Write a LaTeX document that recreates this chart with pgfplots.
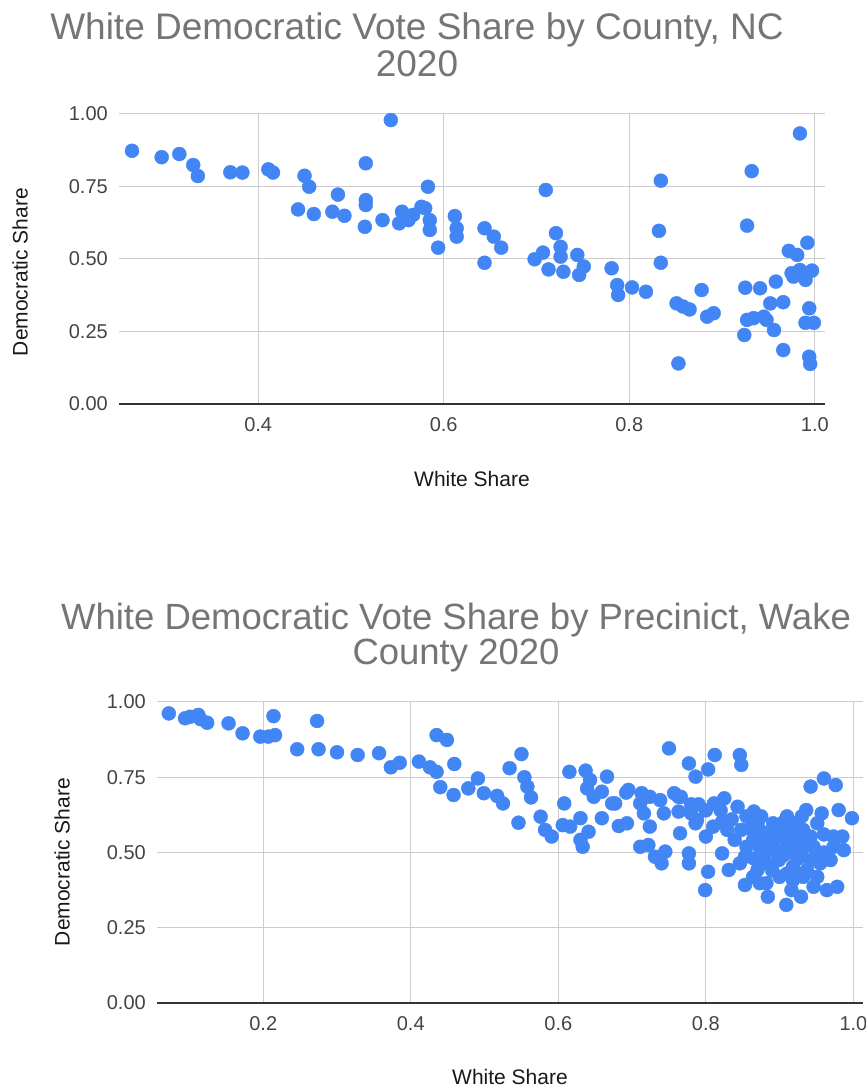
\documentclass[border=0pt]{standalone}
\usepackage{pgfplots}
\pgfplotsset{compat=1.18}
\usepackage{fontspec}
\setmainfont{Liberation Sans}
\definecolor{ptblue}{HTML}{4285F4}
\definecolor{titlegray}{HTML}{757575}
\definecolor{tickgray}{HTML}{444444}
\definecolor{gridgray}{HTML}{CCCCCC}
\definecolor{axisdark}{HTML}{333333}

\pgfplotstableread{
x y
0.264 0.873
0.296 0.851
0.315 0.862
0.330 0.824
0.335 0.786
0.370 0.799
0.383 0.798
0.411 0.809
0.416 0.798
0.450 0.787
0.455 0.749
0.443 0.671
0.460 0.655
0.486 0.722
0.480 0.663
0.493 0.649
0.516 0.830
0.516 0.703
0.516 0.686
0.515 0.611
0.543 0.979
0.534 0.634
0.552 0.623
0.555 0.663
0.562 0.634
0.567 0.652
0.576 0.680
0.580 0.675
0.583 0.749
0.585 0.634
0.585 0.600
0.594 0.539
0.612 0.648
0.614 0.606
0.614 0.577
0.644 0.606
0.654 0.577
0.662 0.539
0.644 0.487
0.710 0.738
0.721 0.589
0.698 0.499
0.707 0.522
0.713 0.464
0.726 0.542
0.726 0.508
0.729 0.456
0.744 0.514
0.751 0.474
0.746 0.445
0.781 0.468
0.787 0.410
0.788 0.376
0.803 0.402
0.818 0.387
0.834 0.770
0.832 0.597
0.834 0.487
0.853 0.140
0.851 0.347
0.858 0.336
0.865 0.326
0.878 0.393
0.884 0.301
0.891 0.313
0.932 0.803
0.927 0.615
0.925 0.401
0.941 0.399
0.958 0.422
0.924 0.238
0.927 0.290
0.934 0.296
0.945 0.301
0.952 0.347
0.966 0.351
0.956 0.255
0.948 0.290
0.966 0.186
0.984 0.933
0.972 0.528
0.992 0.556
0.981 0.514
0.975 0.451
0.984 0.462
0.990 0.428
0.997 0.460
0.977 0.439
0.994 0.330
0.990 0.280
0.999 0.280
0.994 0.163
0.995 0.138
}\countytable

\pgfplotstableread{
x y
0.072 0.962
0.094 0.946
0.101 0.951
0.112 0.957
0.115 0.943
0.124 0.931
0.153 0.929
0.172 0.896
0.196 0.885
0.207 0.885
0.216 0.890
0.214 0.953
0.246 0.843
0.273 0.937
0.275 0.843
0.300 0.833
0.328 0.824
0.357 0.830
0.373 0.783
0.385 0.798
0.411 0.802
0.426 0.783
0.435 0.768
0.435 0.890
0.449 0.874
0.459 0.794
0.440 0.717
0.458 0.691
0.478 0.713
0.491 0.746
0.499 0.697
0.517 0.688
0.525 0.663
0.534 0.780
0.550 0.827
0.554 0.750
0.558 0.719
0.563 0.683
0.546 0.599
0.576 0.619
0.582 0.575
0.591 0.553
0.606 0.591
0.608 0.663
0.615 0.768
0.616 0.586
0.630 0.614
0.637 0.772
0.643 0.741
0.639 0.713
0.648 0.685
0.659 0.702
0.641 0.569
0.630 0.542
0.633 0.519
0.666 0.752
0.677 0.663
0.659 0.614
0.682 0.588
0.692 0.699
0.695 0.708
0.673 0.663
0.713 0.697
0.724 0.685
0.716 0.630
0.724 0.586
0.711 0.519
0.722 0.525
0.731 0.486
0.740 0.464
0.745 0.503
0.750 0.846
0.738 0.674
0.757 0.697
0.766 0.685
0.763 0.636
0.765 0.564
0.777 0.796
0.786 0.752
0.803 0.776
0.812 0.824
0.777 0.497
0.777 0.464
0.786 0.597
0.800 0.553
0.803 0.436
0.799 0.375
0.811 0.663
0.825 0.680
0.822 0.602
0.822 0.497
0.831 0.442
0.843 0.652
0.846 0.824
0.848 0.791
0.848 0.575
0.853 0.486
0.853 0.392
0.865 0.636
0.864 0.542
0.870 0.442
0.873 0.519
0.891 0.597
0.882 0.398
0.884 0.353
0.898 0.553
0.899 0.475
0.909 0.326
0.916 0.375
0.918 0.453
0.936 0.641
0.932 0.575
0.929 0.353
0.942 0.475
0.946 0.519
0.942 0.719
0.951 0.597
0.946 0.386
0.960 0.746
0.976 0.724
0.957 0.630
0.969 0.475
0.964 0.375
0.978 0.386
0.980 0.641
0.985 0.553
0.987 0.508
0.998 0.614
0.973 0.519
0.903 0.575
0.909 0.519
0.922 0.542
0.870 0.597
0.839 0.542
0.829 0.575
0.810 0.586
0.788 0.608
0.846 0.464
0.864 0.419
0.873 0.398
0.900 0.419
0.918 0.408
0.932 0.419
0.951 0.419
0.891 0.519
0.882 0.464
0.937 0.442
0.955 0.464
0.942 0.553
0.922 0.597
0.891 0.575
0.868 0.553
0.855 0.519
0.909 0.553
0.973 0.553
0.763 0.685
0.743 0.630
0.693 0.597
0.711 0.663
0.860 0.580
0.875 0.570
0.880 0.540
0.895 0.500
0.905 0.490
0.915 0.500
0.925 0.480
0.930 0.510
0.905 0.600
0.915 0.580
0.925 0.560
0.935 0.530
0.950 0.490
0.960 0.500
0.880 0.500
0.865 0.480
0.890 0.440
0.910 0.430
0.925 0.430
0.820 0.640
0.800 0.640
0.790 0.660
0.780 0.630
0.835 0.610
0.855 0.620
0.875 0.620
0.910 0.620
0.930 0.620
0.960 0.560
0.780 0.660
}\waketable

\pgfplotsset{
  sheetstyle/.style={
    scale only axis,
    anchor=south west,
    clip=false,
    ymin=0, ymax=1,
    ytick={0,0.25,0.5,0.75,1},
    axis line style={draw=none},
    major tick length=0pt,
    grid=major,
    major grid style={draw=gridgray, line width=1pt},
    /pgf/number format/assume math mode=true,
    xticklabel style={font=\fontsize{20}{24}\selectfont, text=tickgray, inner sep=0pt, anchor=north, yshift=-13pt,
      /pgf/number format/fixed, /pgf/number format/fixed zerofill, /pgf/number format/precision=1},
    yticklabel style={font=\fontsize{20}{24}\selectfont, text=tickgray, inner sep=0pt, anchor=east, xshift=-11pt,
      /pgf/number format/fixed, /pgf/number format/fixed zerofill, /pgf/number format/precision=2},
    after end axis/.code={\draw[axisdark, line width=1.6pt] (rel axis cs:0,0) -- (rel axis cs:1,0);},
  },
}

\begin{document}
\begin{tikzpicture}
\path[use as bounding box] (0pt,0pt) rectangle (866pt,1091pt);

\begin{axis}[sheetstyle,
  at={(119pt,687pt)}, width=706pt, height=290pt,
  xmin=0.25, xmax=1.011,
  xtick={0.4,0.6,0.8,1.0}]
\addplot[only marks, mark=*, mark size=7pt, color=ptblue, draw=ptblue, fill=ptblue] table[x=x,y=y] {\countytable};
\end{axis}

\begin{axis}[sheetstyle,
  at={(157pt,88pt)}, width=706pt, height=301pt,
  xmin=0.056, xmax=1.013,
  xtick={0.2,0.4,0.6,0.8,1.0}]
\addplot[only marks, mark=*, mark size=7pt, color=ptblue, draw=ptblue, fill=ptblue] table[x=x,y=y] {\waketable};
\end{axis}

% titles
\node[anchor=base, text=titlegray, font=\fontsize{37}{44}\selectfont, inner sep=0pt] at (417pt,1051pt) {White Democratic Vote Share by County, NC};
\node[anchor=base, text=titlegray, font=\fontsize{37}{44}\selectfont, inner sep=0pt] at (417pt,1014pt) {2020};
\node[anchor=base, text=titlegray, font=\fontsize{36.5}{44}\selectfont, inner sep=0pt] at (456pt,461pt) {White Democratic Vote Share by Precinict, Wake};
\node[anchor=base, text=titlegray, font=\fontsize{36.5}{44}\selectfont, inner sep=0pt] at (456pt,426pt) {County 2020};

% axis labels
\node[anchor=base, font=\fontsize{21}{25}\selectfont, inner sep=0pt, text=black!90] at (472pt,604pt) {White Share};
\node[rotate=90, font=\fontsize{21}{25}\selectfont, inner sep=0pt, text=black!90] at (20pt,819pt) {Democratic Share};
\node[anchor=base, font=\fontsize{21}{25}\selectfont, inner sep=0pt, text=black!90] at (510pt,6pt) {White Share};
\node[rotate=90, font=\fontsize{21}{25}\selectfont, inner sep=0pt, text=black!90] at (62pt,229pt) {Democratic Share};
\end{tikzpicture}
\end{document}
